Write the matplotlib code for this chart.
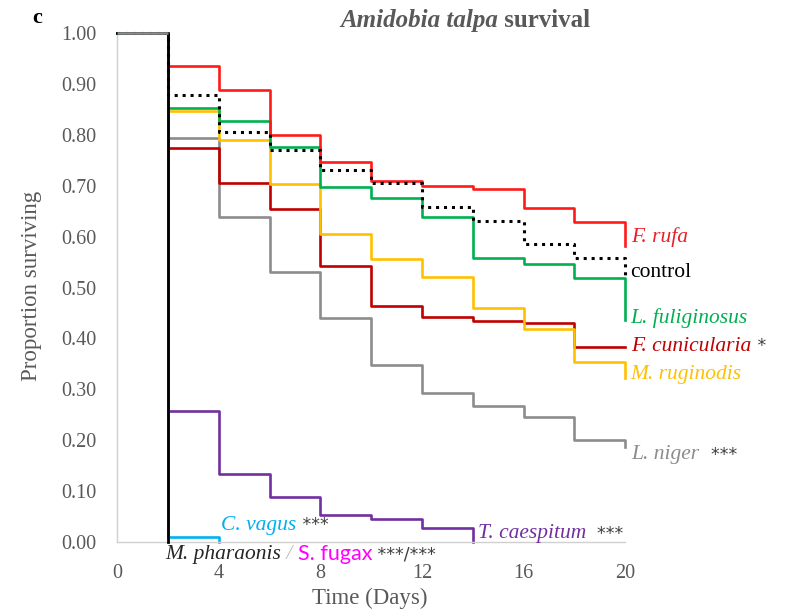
import matplotlib
matplotlib.use('Agg')
import matplotlib.pyplot as plt

# Datos
days = [0, 2, 4, 6, 8, 10, 12, 14, 16, 18, 20]
f_rufa = [1.0, 0.935, 0.889, 0.800, 0.747, 0.709, 0.700, 0.693, 0.657, 0.629, 0.582]
control = [1.0, 0.878, 0.805, 0.770, 0.731, 0.706, 0.659, 0.631, 0.585, 0.559, 0.520]
l_fuliginosus = [1.0, 0.854, 0.828, 0.777, 0.697, 0.676, 0.639, 0.558, 0.547, 0.518, 0.436]
m_ruginodis = [1.0, 0.847, 0.790, 0.703, 0.606, 0.556, 0.520, 0.459, 0.418, 0.354, 0.322]
f_cunicularia = [1.0, 0.775, 0.705, 0.654, 0.542, 0.464, 0.442, 0.434, 0.431, 0.384, 0.384]
l_niger = [1.0, 0.795, 0.639, 0.530, 0.440, 0.348, 0.293, 0.267, 0.246, 0.200, 0.187]

days_tc = [0, 2, 4, 6, 8, 10, 12, 14]
t_caespitum = [1.0, 0.258, 0.133, 0.089, 0.053, 0.045, 0.027, 0.0]

days_cv = [0, 2, 4]
c_vagus = [1.0, 0.010, 0.0]

days_mp = [0, 2]
m_pharaonis = [1.0, 0.0]

x_ticks = [0, 4, 8, 12, 16, 20]
y_ticks = [0.0, 0.1, 0.2, 0.3, 0.4, 0.5, 0.6, 0.7, 0.8, 0.9, 1.0]

serif = 'Liberation Serif'
gris = '#595959'

fig = plt.figure(figsize=(7.86, 6.10), dpi=100)
ax = fig.add_axes([0.149, 0.1115, 0.6463, 0.834])

lw = 1.9
ax.step(days, l_niger, where='post', color='#8c8c8c', lw=lw, zorder=2, clip_on=False)
ax.step(days, f_cunicularia, where='post', color='#c00000', lw=lw, zorder=2, clip_on=False)
ax.step(days, m_ruginodis, where='post', color='#ffc000', lw=lw, zorder=2, clip_on=False)
ax.step(days, l_fuliginosus, where='post', color='#00b050', lw=lw, zorder=2, clip_on=False)
ax.step(days, f_rufa, where='post', color='#ff1a1a', lw=lw, zorder=2, clip_on=False)
ax.step(days_tc, t_caespitum, where='post', color='#7030a0', lw=lw, zorder=2, clip_on=False)
ax.step(days_cv, c_vagus, where='post', color='#00b0f0', lw=lw, zorder=2, clip_on=False)
ax.step(days, control, where='post', color='black', lw=2.2, ls=(0, (1, 1.6)), zorder=3, clip_on=False)
ax.step(days_mp, m_pharaonis, where='post', color='black', lw=2.0, zorder=4, clip_on=False)
ax.hlines(l_niger[0], days[0], days[1], color='#8c8c8c', lw=lw, zorder=5, clip_on=False)

ax.set_xlim(0, 20)
ax.set_ylim(0, 1.0)
ax.set_xticks(x_ticks)
ax.set_yticks(y_ticks)
ax.set_yticklabels(['%.2f' % v for v in y_ticks])
ax.tick_params(length=0, labelsize=14.5, colors=gris)
ax.tick_params(axis='y', pad=15)
ax.tick_params(axis='x', pad=16)
for lab in ax.get_xticklabels() + ax.get_yticklabels():
    lab.set_fontfamily(serif)
for s in ['top', 'right']:
    ax.spines[s].set_visible(False)
for s in ['left', 'bottom']:
    ax.spines[s].set_color('#d0d0d0')
    ax.spines[s].set_linewidth(1.0)

ax.set_xlabel('Time (Days)', fontsize=16.5, color=gris, family=serif)
ax.set_ylabel('Proportion surviving', fontsize=16.5, color=gris, family=serif)
ax.xaxis.set_label_coords(0.498, -0.09)
ax.yaxis.set_label_coords(-0.148, 0.503)

# Titulo
t1 = fig.text(0.4326, 0.966, 'Amidobia talpa', fontsize=18, fontweight='bold', style='italic',
              color=gris, family=serif, va='center', ha='left')
ax.annotate(' survival', xy=(1, 0.5), xycoords=t1, va='center', ha='left', fontsize=18,
            fontweight='bold', color=gris, family=serif)
fig.text(0.047, 0.97, 'c', fontsize=16, fontweight='bold', family=serif, va='center', ha='center')


def etiqueta(x, y, partes):
    prev = None
    for txt, col, kw in partes:
        kw = dict(kw)
        size = kw.pop('fontsize', 15.5)
        if prev is None:
            prev = ax.text(x, y, txt, color=col, fontsize=size, va='center', ha='left',
                           clip_on=False, zorder=6, **kw)
        else:
            prev = ax.annotate(txt, xy=(1, 0.5), xycoords=prev, va='center', ha='left',
                               color=col, fontsize=size, zorder=6, **kw)


it = dict(family=serif, style='italic')
ast = dict(family='DejaVu Sans', fontsize=12.5)
etiqueta(20.25, 0.600, [('F. rufa', '#e8202a', it)])
etiqueta(20.2, 0.530, [('control', 'black', dict(family=serif))])
etiqueta(20.2, 0.440, [('L. fuliginosus', '#00b050', it)])
etiqueta(20.25, 0.385, [('F. cunicularia', '#c00000', it), (' *', '#404040', ast)])
etiqueta(20.2, 0.330, [('M. ruginodis', '#ffc000', it)])
etiqueta(20.25, 0.171, [('L. niger', '#8c8c8c', it), ('  ***', '#404040', ast)])
etiqueta(4.1, 0.033, [('C. vagus', '#00b0f0', it), (' ***', '#404040', ast)])
etiqueta(14.2, 0.016, [('T. caespitum', '#7030a0', it), ('  ***', '#404040', ast)])
etiqueta(1.9, -0.024, [('M. pharaonis', '#262626', it), (' / ', '#bfbfbf', it),
                       ('S. fugax', '#ff00ff', dict(family='Lato')),
                       (' ***/***', '#404040', ast)])

fig.savefig('out.png', dpi=100)
